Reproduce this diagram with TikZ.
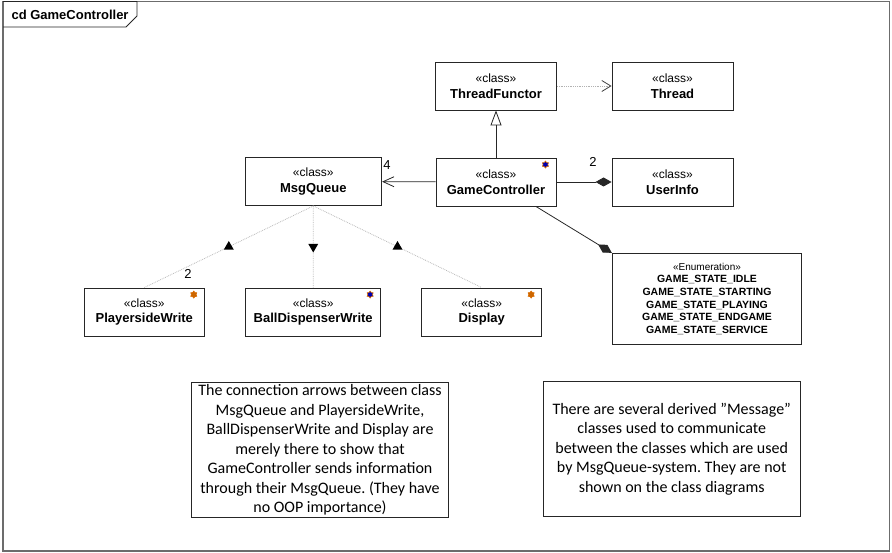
\documentclass[tikz,border=0pt]{standalone}
\usepackage{fontspec}
\setmainfont{Liberation Sans}
\newfontfamily\notefont{Carlito}
\usetikzlibrary{arrows.meta,shapes.geometric}
\frenchspacing

\tikzset{
  classbox/.style={draw=black!85, line width=0.9pt, fill=white, inner sep=0pt,
    minimum height=48pt, align=center, font=\fontsize{13}{15.5}\selectfont},
  enumbox/.style={draw=black!85, line width=0.9pt, inner sep=0pt,
    align=center, font=\fontsize{10.5}{12.7}\selectfont},
  notebox/.style={draw=black!85, line width=0.9pt, inner sep=0pt,
    align=center, font=\notefont\fontsize{16}{19.5}\selectfont},
  depend/.style={draw=gray!60, densely dotted, line width=0.8pt,
    -{Straight Barb[length=9pt, width=11pt, color=black!75]}},
  general/.style={draw=black!85, line width=0.8pt,
    -{Triangle[open, length=15pt, width=11pt]}},
  navig/.style={draw=black!85, line width=0.8pt,
    -{Straight Barb[length=11pt, width=10pt]}},
  compos/.style={draw=black!85, line width=0.8pt,
    -{Diamond[length=16pt, width=9pt]}},
  assoc/.style={draw=gray!55, densely dotted, line width=0.8pt},
  dirmark/.style={regular polygon, regular polygon sides=3, fill=black,
    inner sep=0pt, minimum size=11.5pt},
  starmark/.style={star, star points=6, draw=orange!85!black, line width=0.6pt,
    inner sep=0pt, minimum size=7pt},
  multlabel/.style={font=\fontsize{13}{15}\selectfont, inner sep=0pt}
}
\newcommand{\umlclass}[1]{{\fontsize{12}{15.5}\selectfont «class»}\\\textbf{#1}}

\begin{document}
\begin{tikzpicture}[x=1pt, y=-1pt]
\useasboundingbox (0,0) rectangle (892,553);
% frame and name tab
\draw[gray!85!black, line width=1.3pt] (3,1.5) rectangle (889.5,551);
\draw[black!85, line width=0.9pt] (3,1.5) -- (137,1.5) -- (137,16) -- (126,27) -- (3,27);
\node[anchor=west, font=\fontsize{13}{15}\selectfont\bfseries] (title) at (8,14.5) {cd GameController};

% classes
\node[classbox, minimum width=121pt] (tf) at (496,86) {\umlclass{ThreadFunctor}};
\node[classbox, minimum width=121pt] (thr) at (672.5,86) {\umlclass{Thread}};
\node[classbox, minimum width=120pt] (gc) at (496,182) {\umlclass{GameController}};
\node[classbox, minimum width=121pt] (ui) at (672.5,182) {\umlclass{UserInfo}};
\node[classbox, minimum width=136.7pt] (mq) at (313.3,181.5) {\umlclass{MsgQueue}};
\node[classbox, minimum width=120pt] (pw) at (144.3,312) {\umlclass{PlayersideWrite}};
\node[classbox, minimum width=135pt] (bd) at (313.2,312) {\umlclass{BallDispenserWrite}};
\node[classbox, minimum width=120pt] (dp) at (481.7,312) {\umlclass{Display}};

% enumeration
\node[enumbox, minimum width=189.4pt, minimum height=91pt] (en) at (707,298.8)
  {{\fontsize{10}{12.7}\selectfont «Enumeration»}\\
   \textbf{GAME\_STATE\_IDLE}\\
   \textbf{GAME\_STATE\_STARTING}\\
   \textbf{GAME\_STATE\_PLAYING}\\
   \textbf{GAME\_STATE\_ENDGAME}\\
   \textbf{GAME\_STATE\_SERVICE}};

% stars in the corners
\foreach \c/\col in {gc/blue!70!black, pw/orange!80!black, bd/blue!70!black, dp/orange!80!black}
  \node[starmark, fill=\col] (s\c) at ([xshift=-11pt,yshift=-7pt]\c.north east) {};

% connectors
\draw[depend] (tf) -- (thr);
\draw[general] (gc) -- (tf);
\draw[navig] (gc) -- (mq);
\draw[compos] (gc) -- (ui);
\draw[compos] (gc) -- (en.north west);
\foreach \t/\r in {pw/0, bd/180, dp/0}
  \draw[assoc] (mq.south) -- (\t.north) node[midway, dirmark, shape border rotate=\r] (d\t) {};

% multiplicities
\node[multlabel] (m4) at (387,165) {4};
\node[multlabel] (m2u) at (593,162) {2};
\node[multlabel] (m2p) at (188,274) {2};

% notes
\node[notebox, minimum width=256.6pt, minimum height=135pt] (n1) at (320,449.8)
  {The connection arrows between class\\
   MsgQueue and PlayersideWrite,\\
   BallDispenserWrite and Display are\\
   merely there to show that\\
   GameController sends information\\
   through their MsgQueue. (They have\\
   no OOP importance)};
\node[notebox, minimum width=256.7pt, minimum height=135.7pt] (n2) at (671.7,449)
  {There are several derived ”Message”\\
   classes used to communicate\\
   between the classes which are used\\
   by MsgQueue-system. They are not\\
   shown on the class diagrams};
\end{tikzpicture}
\end{document}
